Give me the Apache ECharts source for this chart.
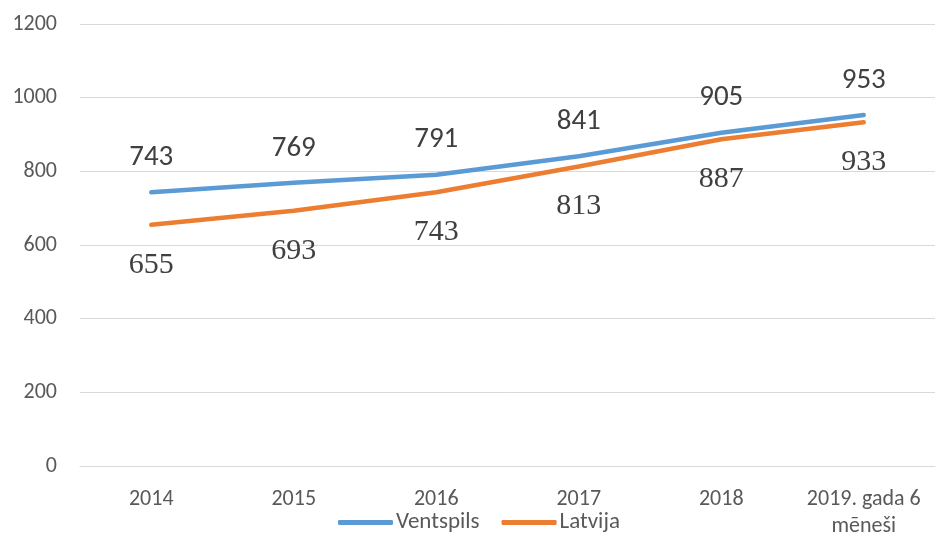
<!DOCTYPE html>
<html>
<head>
<meta charset="utf-8">
<script src="https://cdn.jsdelivr.net/npm/echarts@6/dist/echarts.min.js"></script>
<style>
  html, body { margin: 0; padding: 0; background: #fff; }
  #chart { width: 937px; height: 535px; }
</style>
</head>
<body>
<div id="chart"></div>
<script>
const years = ["2014", "2015", "2016", "2017", "2018", "2019. gada 6\nmēneši"];
const ventspils = [743, 769, 791, 841, 905, 953];
const latvija = [655, 693, 743, 813, 887, 933];
const yTicks = { min: 0, max: 1200, step: 200 };

const sans = "Calibri, Carlito, Lato, sans-serif";
const serif = "'Liberation Serif', 'Times New Roman', serif";
const grey = "#595959";

const chart = echarts.init(document.getElementById("chart"));

// tiny symbol hidden under the line, only there to carry the value label
function lineSeries(name, data, color, label) {
  return {
    name, type: "line", data,
    symbol: "circle", symbolSize: 2, showSymbol: true,
    itemStyle: { color },
    lineStyle: { width: 4.5, color, cap: "round" },
    label: Object.assign({ show: true, color: "#404040" }, label),
  };
}

chart.setOption({
  animation: false,
  grid: { left: 80, right: 2, top: 24, bottom: 69, outerBoundsMode: "none" },
  legend: {
    left: 333,
    top: 506,
    itemWidth: 55,
    itemHeight: 5,
    itemGap: 22,
    icon: "roundRect",
    textStyle: { fontFamily: sans, fontSize: 23, color: grey, padding: [0, 0, 0, -2] },
    data: ["Ventspils", "Latvija"],
  },
  xAxis: {
    type: "category",
    data: years,
    boundaryGap: true,
    axisLine: { lineStyle: { color: "#d9d9d9", width: 1 } },
    axisTick: { show: false },
    axisLabel: {
      fontFamily: sans, fontSize: 22, color: grey, margin: 20, lineHeight: 27,
      interval: 0,
    },
  },
  yAxis: {
    type: "value",
    min: yTicks.min,
    max: yTicks.max,
    interval: yTicks.step,
    axisLine: { show: false },
    axisTick: { show: false },
    splitLine: { lineStyle: { color: "#d9d9d9", width: 1 } },
    axisLabel: { fontFamily: sans, fontSize: 22, color: grey, margin: 23, formatter: v => String(v) },
  },
  series: [
    lineSeries("Ventspils", ventspils, "#5b9bd5",
      { position: "top", distance: 19, fontFamily: sans, fontSize: 29 }),
    lineSeries("Latvija", latvija, "#ed7d31",
      { position: "bottom", distance: 24, fontFamily: serif, fontSize: 30 }),
  ],
});
</script>
</body>
</html>
